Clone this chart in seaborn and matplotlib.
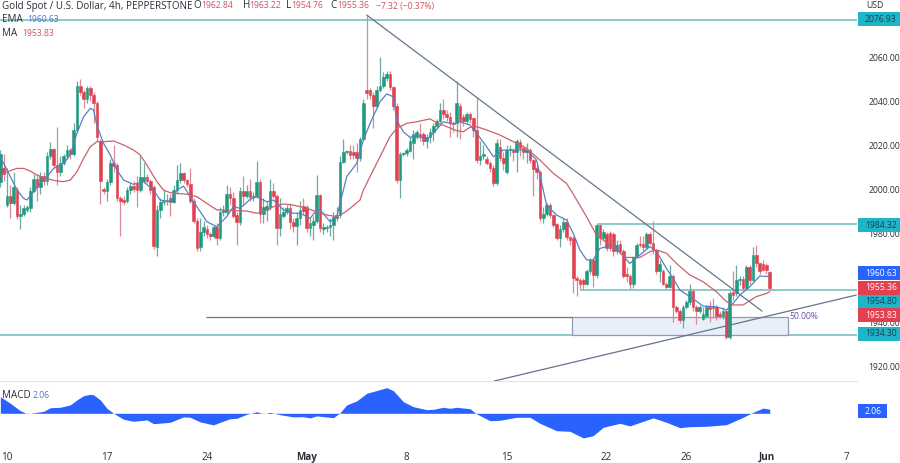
import matplotlib
matplotlib.use('Agg')
import matplotlib.pyplot as plt
from matplotlib.patches import Rectangle
import numpy as np
import seaborn as sns

# 4h candles
opens = [2003.5,2010,1993,1997,1994,2000,1988,1989,1991,1991.5,
         1999.5,2005,2001,2006,2004,2015,2018.5,2011,2008,2012,
         2015,2018,2016,2027,2047,2044,2041,2046,2043,2039,
         2022,2000.5,1999.5,2003.5,2012,2011,1996,1995.5,1995,2000,
         2001.5,2003,2000,2004,2005.5,2004,2001,1974,1991,1994.5,
         1995,1996,1994.5,2000,2004.5,2007.5,2004.5,2002.5,1995,1986,
         1974,1981,1982,1980,1979,1983,1978,1990,1990,1998,
         1996,1988.5,1985.5,1999.5,1997,1999.5,1996.5,1997,2003.5,1989,
         1991,1992,1999.5,1997,1982.5,1988,1990,1991.5,1985.5,1983.5,
         1987,1992.5,1992,1982.5,1984,1986,1997.5,1982,1982.5,1983,
         1984,1987,1988.5,2012.5,2017,2017.5,2017,2017,2014.5,2023,
         2045,2045,2043,2038,2045,2047,2050.5,2052.5,2046.5,2038,
         2004.5,2016,2016.5,2017.5,2021,2024,2025,2025,2022,2024,
         2026,2029,2031,2036,2034,2033,2030,2030,2038,2033,
         2031,2034,2032.5,2027,2013.5,2015,2014,2012,2010,2003,
         2019.5,2014.5,2008,2018,2018,2017,2021.5,2019,2017,2018,
         2013.5,2010,2008,1987,1989,1993,1988.5,1984.5,1978,1982,
         1985.5,1978.5,1978,1960,1959,1959,1957.5,1963,1968,1961.5,
         1984,1978,1980,1980.5,1980,1972,1975.5,1972,1962,1961,
         1957.5,1969.5,1975.5,1975.5,1974,1980,1976,1972.5,1963,1963,
         1957.5,1956,1961,1947,1945,1941,1947,1949,1954,1947,
         1945,1941.5,1943,1947,1947,1947,1943.5,1943,1945,1933.5,
         1953.5,1953,1959,1959.5,1955.3,1965,1959,1970.4,1966.6,1966.5,
         1966,1962.84]
closes = [2016,2007,1997,1994,2001,1988,1989,1991.5,1992,1999.5,
          2005,2001,2006,2004,2015,2018.5,2011,2008,2012,2015,
          2018,2016,2027,2047,2044,2041,2046,2043,2039,2024,
          2004,1999.5,2003.5,2012,2010.5,1996,1995,1994.5,2000,2001.5,
          2000.5,2000,2005.5,2005.5,2004,2000,1974.5,1991,1994.5,1995,
          1995.5,1994.5,2000,2004.5,2007.5,2004.5,2002.5,1995,1986,1973.5,
          1981,1983,1980,1979,1983,1978,1990,1991,1998,1996,
          1988,1985.5,1999.5,1997,1999.5,1996.5,1997,2003.5,1989,1992,
          1992.5,1999.5,1997,1982.5,1989,1990,1991.5,1985.5,1983.5,1987,
          1991,1990.5,1982.5,1985,1986,1997.5,1982.5,1983,1983,1984,
          1987.5,1988.5,2012.5,2017,2017.5,2015.5,2015.5,2014.5,2023,2039,
          2043.5,2043,2038,2045,2047,2051,2052.5,2046.5,2038,2004.5,
          2016,2016.5,2018,2022,2025,2026,2024,2022,2024,2026,
          2029,2031,2036,2034,2033,2030,2029.5,2039,2031,2031,
          2034,2032,2027,2013.5,2015,2016,2012,2010,2003,2021,
          2014.5,2012,2018,2018.5,2017,2022,2019,2017,2018,2013.5,
          2009.5,2008,1987,1989,1993,1988.5,1984,1978,1982,1985.5,
          1978.5,1977,1960,1959,1957.5,1957.5,1963,1968,1961.5,1984,
          1978,1981,1973.5,1973.5,1972,1975,1972,1961,1961,1957.5,
          1969.5,1975,1975,1974,1980,1976,1972.5,1963,1966.5,1957.5,
          1956,1961,1947,1945,1941,1947,1949,1954,1947,1945,
          1947,1943.5,1947,1946,1946.5,1943,1943,1945,1933.5,1953,
          1952.5,1959,1959.5,1955.3,1965,1959,1970.4,1966.6,1963,1963.5,
          1963.5,1955.36]
highs = [2018,2016,2010,2002,2008,2001,1993,1993,1993,2001,
         2007,2007,2008,2008,2017,2021.7,2019,2028.5,2015,2016,
         2020,2019,2030,2049,2050,2045,2047,2047,2044,2040,
         2023,2001,2005,2014,2020,2012,1997,1997,2001,2003,
         2004,2006,2015,2012,2007,2005,2002,1993,1996,2000,
         1998,1998,2002,2011,2012,2008,2005,2010,1996,1987,
         1987,1986,1984,1981,1984,1985,1992,1993,2002,2001,
         1999,1990,2001,2006,2002,2005,1999,2013,2005,1996,
         1995,2005,2003,1998,1996,1992,1993,1994,1987,1990,
         1995,1996,1993,1987,1988,2006.5,1998,1985,1984,1987,
         1990,1992,2015,2023,2018,2020,2020,2021,2024,2041,
         2079,2046,2044,2047,2060,2053,2053.5,2053.5,2047,2039,
         2017,2017,2019,2024,2027,2027,2030,2026,2025,2028,
         2030,2032,2039,2041,2036,2035,2031,2049,2039,2034,
         2035,2035,2033,2042,2022,2020,2015,2013,2011,2023,
         2023,2017,2020,2020,2019,2023,2023,2020,2021,2019,
         2014,2011,2009,1992,1994,1994,1989,1985,1984,1987,
         1987,1979,1979,1961,1960,1960,1964,1969,1969,1984.6,
         1984.5,1982,1981,1981.5,1981,1977,1977,1973,1965,1962,
         1970,1976,1979,1979,1981,1981,1986,1973,1968,1964,
         1958,1966,1962,1948,1946,1948,1950,1957.5,1955,1948,
         1948,1947,1948,1949.5,1951,1948,1945,1947,1946,1954,
         1963,1966,1961,1961,1966,1966,1974,1975,1967,1968,
         1967,1963.22]
lows = [2001,2004,1992,1987,1993,1986.5,1982,1988,1990,1990,
        1999,1995,1998,2002,2002,2014,2010,2002,2006,2011,
        2014,2014,2015,2026,2043,2037,2039,2040,2030,2022,
        1993.5,1998,1995,2002,2008,1995,1979,1993,1994,1998,
        1999,1992,1999,2003,2003,1998,1973,1970,1987,1993,
        1993,1988,1994,1998,2003,2003,2001,1994,1985,1972,
        1972,1979,1978,1977,1978,1975,1977,1988,1989,1993,
        1987,1975,1984,1993,1996,1995,1995,1996,1985,1985,
        1986,1991,1996,1975,1979,1987,1989,1982,1981,1975,
        1984,1989,1981,1979,1977,1985,1981,1980,1981,1979,
        1977,1986,1987,2012,2016,2014,2014,2008,2013,2022,
        2041,2041,2028,2037,2044,2046,2049,2045,2036,2003,
        1996,2015,2015,2017,2014,2023,2022,2020,2019,2021,
        2022,2028,2030,2032,2031,2024,2026,2024,2023,2029,
        2030,2030,2024,2012,2011,2014,2011,2008,2001.5,2002,
        2013,2009,2007,2015,2013,2008,2015,2014,2012,2012,
        1997,2005,1986,1985,1988,1987,1983,1977,1974,1981,
        1977,1975,1953,1952,1955,1955,1957,1962,1956,1960,
        1975,1977,1972,1972,1970,1971,1971,1960,1958,1955,
        1955.5,1969,1974,1972,1973,1975,1971,1962,1958,1957,
        1955,1955.5,1940,1944,1939.5,1937.5,1946,1948,1945,1939,
        1944,1941,1942,1940,1942,1941,1942,1941.5,1932.5,1932.5,
        1950,1952,1957,1954,1954.5,1957.5,1958,1965,1962,1963,
        1962,1954.76]

# indicator lines, vertices
ema_idx = [0,1,3,5,7,8,10,12,14,16,19,21,23,25,27,28,29,31,33,35,37,40,43,46,48,51,53,55,57,59,62,65,68,70,72,75,77,80,82,85,88,
           90,93,95,96,99,101,102,104,107,109,111,114,116,118,119,121,123,125,128,130,133,136,138,141,143,146,148,151,155,158,161,
           164,167,170,172,174,176,178,180,184,189,192,195,197,200,202,204,207,211,215,218,220,222,225,228,231]
ema_vals = [2014.1,2011.9,2005.9,1999.8,1996,1995.3,1999,2002.8,2005.9,2009.6,2011.9,2015.7,2025.5,2033,2036.8,2036,2029,2020.9,2015.7,2008.9,2004.3,2002.4,2003.6,1999.8,1995.3,1994.5,1999.8,2001.6,1996.8,1992.3,1985.5,1983.2,1987.8,1992.3,1991.5,1995.6,1996.8,1994.5,1995.3,1990.8,1989.3,
            1989.3,1987,1990.8,1990.8,1985.5,1987.8,1993.8,2005.9,2011.9,2022.4,2030,2039.8,2043.3,2042,2031.5,2026.2,2023.6,2024.7,2022.4,2025.5,2030.7,2029.7,2030.7,2029.2,2025.5,2019.4,2014.9,2017.9,2017.9,2017.9,2013.4,
            1993,1988.5,1986.2,1980.2,1972.7,1968.2,1968.2,1973.4,1975,1966.6,1970.4,1974.2,1972,1964.3,1959.8,1954.6,1951.6,1947.3,1947,1945.5,1948.5,1952.3,1956,1960.9,1960.63]
ma_idx = [0,1,3,5,7,9,11,13,15,17,19,21,23,25,27,29,31,34,37,40,42,44,47,49,51,53,56,59,62,65,68,71,74,77,79,82,85,88,90,
          92,95,98,101,103,105,108,109,111,114,117,119,122,125,129,131,134,137,139,141,143,146,150,154,158,162,166,170,172,176,179,
          181,185,188,192,195,197,200,203,207,211,215,218,220,223,227,230,231]
ma_vals = [2005.9,2007.4,2008.6,2009.6,2009.6,2008.4,2006.6,2005.5,2004.6,2003.9,2003.6,2004.3,2008.1,2014.1,2019.4,2021.7,2021.7,2022,2020.2,2017.9,2015.7,2011.1,2003.6,1999.8,1998.6,1998.3,1997.9,1996.8,1993.8,1990.8,1990.8,1990.5,1990.3,1989.3,1990,1992.3,1993.5,1993,1992.3,
           1991.5,1990,1988.5,1987.8,1989.3,1991.5,1995.3,1999.8,2005.9,2014.9,2024,2027.7,2030,2030.7,2032,2030.3,2028.5,2026.7,2026.2,2028.2,2028.5,2027,2024.7,2021.7,2018.7,2013.4,2007.4,2002.8,1998,1987.7,1979.4,
           1977.2,1972.7,1969.3,1969.3,1971.9,1972.7,1971.2,1966.6,1961.4,1958.3,1953.8,1949.3,1947.8,1947.8,1951.6,1953,1953.83]

macd_idx = [0,3,6,8,11,13,15,18,21,23,25,27,28,30,32,34,37,40,44,46,51,55,57,60,64,66,69,71,74,77,79,81,84,88,91,93,95,100,102,104,107,110,116,118,121,124,128,130,133,
            135,137,141,143,147,150,155,159,162,167,171,175,178,181,186,189,196,200,204,207,212,218,223,226,229,231]
macd_vals = [8.3,5,1.3,-0.2,0.5,1,2.8,3,4.2,6.7,8.8,9.5,9.2,6.7,2.5,0,-3,-4,-3.3,-5.2,-4.5,-1.8,-2,-4.3,-5.8,-4.5,-2.7,-2.5,-0.5,0.8,-0.2,0.5,-0.7,-1.8,-1.7,-2.3,-1.3,-2.2,0.3,4.2,6.2,10,12.8,11.3,5.8,3.3,1.8,2,3,
             2.5,3,2.3,-0.3,-3.7,-3.5,-2,-2,-5,-8.7,-9,-12.3,-11.2,-7,-5,-6.3,-2.3,-4.5,-7.2,-6.7,-6.5,-5.7,-2,0.5,2.6,2.06]

price_ticks = [2060, 2040, 2020, 2000, 1980, 1940, 1920]
date_idx = [2, 32, 62, 92, 122, 152, 182, 206, 230, 254]
date_labels = ['10', '17', '24', 'May', '8', '15', '22', '26', 'Jun', '7']

# drawn levels and trend lines
top_level = 2076.93
res_level = 1984.32
mid_level = 1954.80
low_level = 1934.30
fib_level = 1942.3

GREEN = '#1f9a80'
RED = '#e2404f'
TEAL = '#6cbcbc'
SLATE = '#62758f'
BLUE = '#2962ff'
W, H = 900, 463
FS = 7.1      # words
FN = 6.2      # prices

sns.set_style('white')
plt.rcParams['font.family'] = ['Open Sans', 'DejaVu Sans']

fig = plt.figure(figsize=(W / 100, H / 100), dpi=100)
ax = fig.add_axes([0, (H - 381) / H, 857 / W, 381 / H])
ax2 = fig.add_axes([0, (H - 441) / H, 857 / W, 60 / H])

x = np.arange(len(closes))
o = np.array(opens)
c = np.array(closes)
up = c >= o
colors = [GREEN if u else RED for u in up]
wick_colors = ['#6fa9a2' if u else '#d68d97' for u in up]

ax.vlines(x, lows, highs, colors=wick_colors, lw=0.9, zorder=2)
ax.bar(x, np.abs(c - o), bottom=np.minimum(o, c), width=0.8, color=colors, edgecolor=colors, linewidth=0.4, zorder=3)

sns.lineplot(x=ema_idx, y=ema_vals, color='#5a7fc2', lw=0.9, ax=ax, zorder=4, errorbar=None)
sns.lineplot(x=ma_idx, y=ma_vals, color='#c9626d', lw=0.9, ax=ax, zorder=4, errorbar=None)

# levels
ax.hlines(top_level, -1, 258, color=TEAL, lw=1.1, zorder=1)
ax.hlines(res_level, 179, 258, color=TEAL, lw=1.1, zorder=1)
ax.hlines(mid_level, 174, 258, color=TEAL, lw=1.1, zorder=1)
ax.hlines(low_level, -1, 258, color=TEAL, lw=1.1, zorder=1)

# fib box
ax.add_patch(Rectangle((171.6, low_level), 65, fib_level - low_level, facecolor='#e9eff9', edgecolor='#8b9cb5', lw=0.9, zorder=1))
ax.hlines(fib_level, 61.8, 171.6, color=SLATE, lw=0.9, zorder=1)
ax.text(236.8, fib_level + 0.2, '50.00%', color='#6a4fa0', fontsize=FN, va='center', ha='left', zorder=5)

# trend lines
ax.plot([110, 228.7], [2079, 1945], color=SLATE, lw=0.9, zorder=5)
ax.plot([148.3, 257], [1913.4, 1952.3], color=SLATE, lw=0.9, zorder=5)

ax.set_xlim(-0.1, 257.2)
ax.set_ylim(1913.4, 2085.8)
ax.yaxis.tick_right()
ax.set_yticks(price_ticks)
ax.set_yticklabels([f'{t:.2f}' for t in price_ticks], fontsize=FN, color='#2a2e39')
ax.tick_params(axis='y', length=0, pad=8)
ax.set_xticks([])
for s in ax.spines.values():
    s.set_visible(False)

# macd panel
ax2.fill_between(macd_idx, macd_vals, 0, color=BLUE, lw=0)
ax2.set_xlim(-0.1, 257.2)
ax2.set_ylim(-13.85, 16.15)
ax2.set_yticks([])
ax2.set_xticks(date_idx)
ax2.set_xticklabels(date_labels, fontsize=FS, color='#2a2e39')
for lab in ax2.get_xticklabels():
    if lab.get_text() in ('May', 'Jun'):
        lab.set_fontweight('bold')
ax2.tick_params(axis='x', length=0, pad=8)
for s in ax2.spines.values():
    s.set_visible(False)
ax2.spines['top'].set_visible(True)
ax2.spines['top'].set_color('#e0e3eb')
ax2.spines['top'].set_linewidth(0.8)


def pixel_text(px, py, s, **kw):
    fig.text(px / W, 1 - py / H, s, va='center', **kw)


def price_box(py, s, face, tc, right=900, left=858):
    fig.add_artist(Rectangle((left / W, 1 - (py + 7) / H), (right - left) / W, 14 / H,
                             facecolor=face, edgecolor='none', transform=fig.transFigure, zorder=2))
    pixel_text(left + 7, py, s, color=tc, fontsize=FN, zorder=3)


price_box(19, '2076.93', '#1fb5c9', '#1d3c4a')
price_box(225, '1984.32', '#1fb5c9', '#1d3c4a')
price_box(273, '1960.63', BLUE, 'white')
price_box(288, '1955.36', RED, 'white')
price_box(302, '1954.80', '#1fb5c9', '#1d3c4a')
price_box(315, '1953.83', RED, 'white')
price_box(334, '1934.30', '#1fb5c9', '#1d3c4a')
price_box(411, '2.06', BLUE, 'white', right=887)
pixel_text(866, 5, 'USD', color='#2a2e39', fontsize=FN)

# legend row
DARK = '#2a2e39'
LRED = '#d0525e'
pixel_text(2, 6, 'Gold Spot / U.S. Dollar, 4h, PEPPERSTONE', color=DARK, fontsize=FS)
pixel_text(193, 6, 'O', color=DARK, fontsize=FS)
pixel_text(201, 6, '1962.84', color=LRED, fontsize=FN)
pixel_text(243, 6, 'H', color=DARK, fontsize=FS)
pixel_text(249, 6, '1963.22', color=LRED, fontsize=FN)
pixel_text(286, 6, 'L', color=DARK, fontsize=FS)
pixel_text(291, 6, '1954.76', color=LRED, fontsize=FN)
pixel_text(330, 6, 'C', color=DARK, fontsize=FS)
pixel_text(337, 6, '1955.36', color=LRED, fontsize=FN)
pixel_text(376, 6, '\u22127.32 (\u22120.37%)', color=LRED, fontsize=FN)
pixel_text(2, 20, 'EMA', color=DARK, fontsize=FS)
pixel_text(27, 20, '1960.63', color='#4a78c8', fontsize=FN)
pixel_text(2, 34, 'MA', color=DARK, fontsize=FS)
pixel_text(22, 34, '1953.83', color=LRED, fontsize=FN)
pixel_text(2, 395, 'MACD', color=DARK, fontsize=FS)
pixel_text(33, 395, '2.06', color='#4a78c8', fontsize=FN)

fig.savefig('out.png', dpi=100, facecolor='white')
